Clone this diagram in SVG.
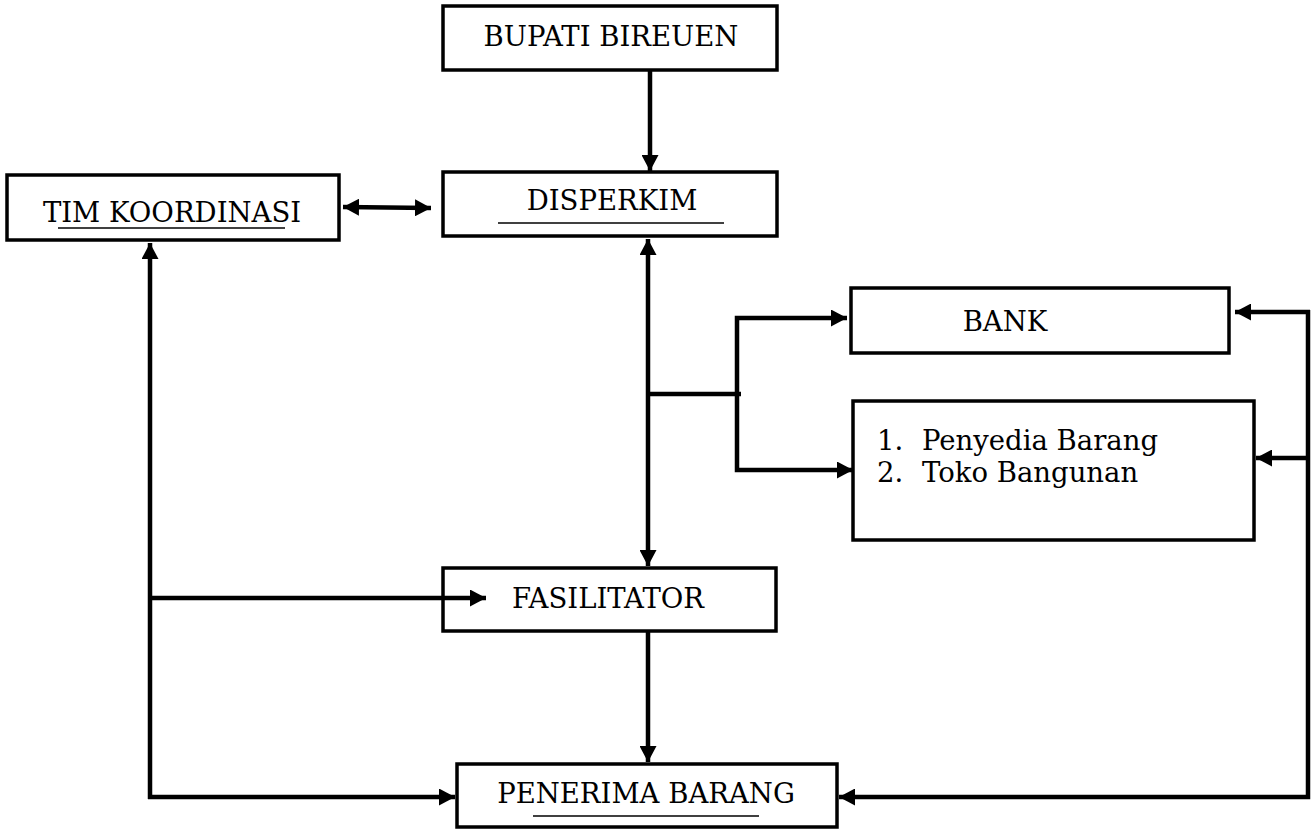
<svg xmlns="http://www.w3.org/2000/svg" width="1312" height="830" viewBox="0 0 1312 830">
<defs>
<style>
.box{fill:#fff;stroke:#000;stroke-width:3.5}
.t{font-family:"DejaVu Serif","Liberation Serif",serif;font-size:27.5px;fill:#000}
.ul{stroke:#000;stroke-width:1.5}
.c{fill:none;stroke:#000;stroke-width:4.5;stroke-linejoin:miter}
</style>
<marker id="ah" markerUnits="userSpaceOnUse" markerWidth="18" markerHeight="17" refX="16" refY="8.5" orient="auto-start-reverse">
<path d="M0,0 L16,8.5 L0,17 z" fill="#000"/>
</marker>
</defs>
<rect width="1312" height="830" fill="#fff"/>
<g id="bupati">
<rect class="box" x="443" y="6" width="334" height="64"/>
<text class="t" x="611" y="46" text-anchor="middle">BUPATI BIREUEN</text>
</g>
<g id="disperkim">
<rect class="box" x="443" y="172" width="334" height="64"/>
<text class="t" x="612" y="210" text-anchor="middle">DISPERKIM</text>
<line class="ul" x1="498" y1="223" x2="724" y2="223"/>
</g>
<g id="tim">
<rect class="box" x="7" y="175" width="332" height="65"/>
<text class="t" x="172" y="222" text-anchor="middle">TIM KOORDINASI</text>
<line class="ul" x1="58" y1="228" x2="285" y2="228"/>
</g>
<g id="bank">
<rect class="box" x="851" y="288" width="378" height="65"/>
<text class="t" x="1005" y="331" text-anchor="middle">BANK</text>
</g>
<g id="penyedia">
<rect class="box" x="853" y="401" width="401" height="139"/>
<text class="t" x="877" y="450">1.</text>
<text class="t" x="922" y="450">Penyedia Barang</text>
<text class="t" x="877" y="482">2.</text>
<text class="t" x="922" y="482">Toko Bangunan</text>
</g>
<g id="fasilitator">
<rect class="box" x="443" y="568" width="333" height="63"/>
<text class="t" x="608" y="608" text-anchor="middle">FASILITATOR</text>
</g>
<g id="penerima">
<rect class="box" x="457" y="764" width="380" height="63"/>
<text class="t" x="646" y="803" text-anchor="middle">PENERIMA BARANG</text>
<line class="ul" x1="533" y1="816" x2="759" y2="816"/>
</g>
<g id="connectors">
<path class="c" d="M650,70 V171" marker-end="url(#ah)"/>
<path class="c" d="M343,207 L431,208" marker-start="url(#ah)" marker-end="url(#ah)"/>
<path class="c" d="M648,239 V566" marker-start="url(#ah)" marker-end="url(#ah)"/>
<path class="c" d="M648,394 H741"/>
<path class="c" d="M737,396 V318 H847" marker-end="url(#ah)"/>
<path class="c" d="M737,392 V470 H853" marker-end="url(#ah)"/>
<path class="c" d="M150,799 V243" marker-end="url(#ah)"/>
<path class="c" d="M148,797 H455" marker-end="url(#ah)"/>
<path class="c" d="M150,598 H486" marker-end="url(#ah)"/>
<path class="c" d="M648,632 V762" marker-end="url(#ah)"/>
<path class="c" d="M1310,312 H1235" marker-end="url(#ah)"/>
<path class="c" d="M1308,310 V797 H839" marker-end="url(#ah)"/>
<path class="c" d="M1306,458 H1256" marker-end="url(#ah)"/>
</g>
</svg>
